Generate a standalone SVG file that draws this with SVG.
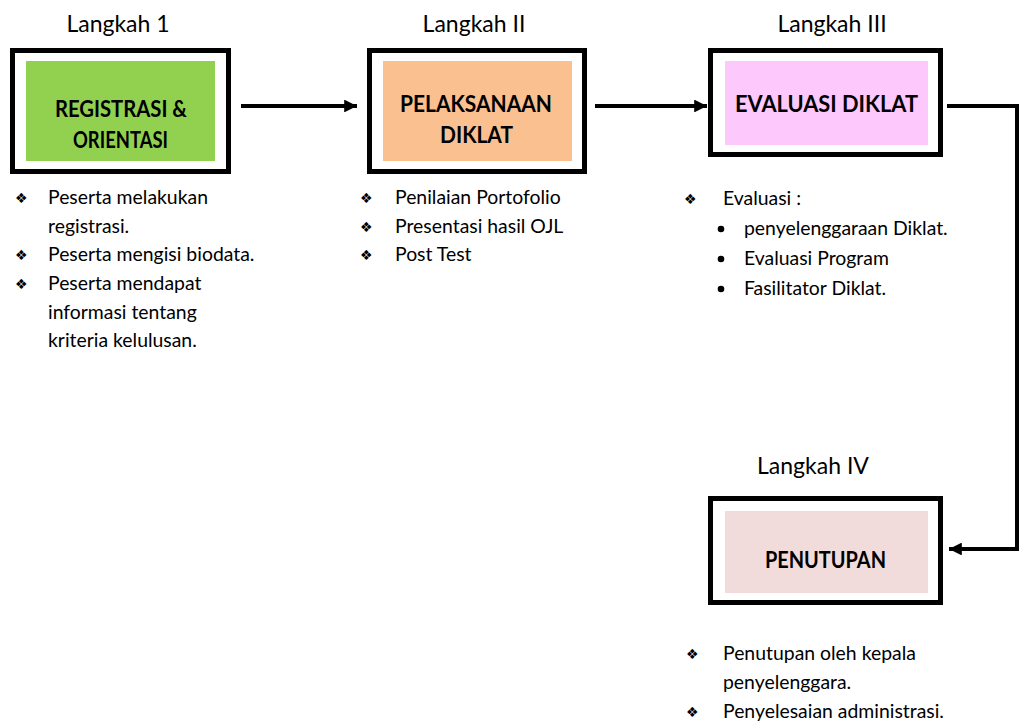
<svg xmlns="http://www.w3.org/2000/svg" width="1019" height="722" viewBox="0 0 1019 722">
<defs>
<marker id="ah" viewBox="0 0 10 10" refX="10" refY="5" markerWidth="3.2" markerHeight="3.2" markerUnits="strokeWidth" orient="auto">
<path d="M0,0 L10,5 L0,10 z" fill="#000"/>
</marker>
<style>
.outer{fill:#fff;stroke:#000;stroke-width:5}
.title{font-family:Lato,"Open Sans",sans-serif;font-size:23px;fill:#000;text-anchor:middle}
.lbl{font-family:Lato,"Open Sans",sans-serif;font-size:23px;font-weight:bold;fill:#000;text-anchor:middle}
.txt{font-family:Lato,"Open Sans",sans-serif;font-size:19.4px;fill:#000}
.bul{font-family:"DejaVu Sans",sans-serif;font-size:14px;fill:#000}
.conn{fill:none;stroke:#000;stroke-width:4}
</style>
</defs>
<rect width="1019" height="722" fill="#fff"/>

<g id="connectors">
<line class="conn" x1="241" y1="106" x2="357" y2="106" marker-end="url(#ah)"/>
<line class="conn" x1="595" y1="106" x2="707" y2="106" marker-end="url(#ah)"/>
<polyline class="conn" points="947,106 1017,106 1017,549 949,549" marker-end="url(#ah)"/>
</g>

<g id="step1">
<text class="title" x="118" y="32">Langkah 1</text>
<rect class="outer" x="12.5" y="50.5" width="216" height="121"/>
<rect x="26" y="61" width="189" height="100" fill="#92d050"/>
<text class="lbl" x="121" y="117" textLength="132" lengthAdjust="spacingAndGlyphs">REGISTRASI &amp;</text>
<text class="lbl" x="120.5" y="148" textLength="95" lengthAdjust="spacingAndGlyphs">ORIENTASI</text>
<text class="bul" x="15" y="203">❖</text>
<text class="txt" x="48" y="204">Peserta melakukan</text>
<text class="txt" x="48" y="233">registrasi.</text>
<text class="bul" x="15" y="260">❖</text>
<text class="txt" x="48" y="261">Peserta mengisi biodata.</text>
<text class="bul" x="15" y="289">❖</text>
<text class="txt" x="48" y="290">Peserta mendapat</text>
<text class="txt" x="48" y="319">informasi tentang</text>
<text class="txt" x="48" y="347">kriteria kelulusan.</text>
</g>

<g id="step2">
<text class="title" x="474" y="32">Langkah II</text>
<rect class="outer" x="369.5" y="50.5" width="215" height="121"/>
<rect x="383" y="61" width="189" height="100" fill="#fac090"/>
<text class="lbl" x="476" y="112" textLength="152" lengthAdjust="spacingAndGlyphs">PELAKSANAAN</text>
<text class="lbl" x="476.5" y="143" textLength="73" lengthAdjust="spacingAndGlyphs">DIKLAT</text>
<text class="bul" x="360" y="203">❖</text>
<text class="txt" x="395" y="204">Penilaian Portofolio</text>
<text class="bul" x="360" y="232">❖</text>
<text class="txt" x="395" y="233">Presentasi hasil OJL</text>
<text class="bul" x="360" y="260">❖</text>
<text class="txt" x="395" y="261">Post Test</text>
</g>

<g id="step3">
<text class="title" x="832" y="32">Langkah III</text>
<rect class="outer" x="710.5" y="50.5" width="230" height="104"/>
<rect x="725" y="61" width="203" height="84" fill="#fdc9fd"/>
<text class="lbl" x="826.5" y="112" textLength="183" lengthAdjust="spacingAndGlyphs">EVALUASI DIKLAT</text>
<text class="bul" x="684" y="204">❖</text>
<text class="txt" x="723" y="205">Evaluasi :</text>
<circle cx="721" cy="229" r="3.3" fill="#000"/>
<text class="txt" x="744" y="235">penyelenggaraan Diklat.</text>
<circle cx="721" cy="259" r="3.3" fill="#000"/>
<text class="txt" x="744" y="265">Evaluasi Program</text>
<circle cx="721" cy="289" r="3.3" fill="#000"/>
<text class="txt" x="744" y="295">Fasilitator Diklat.</text>
</g>

<g id="step4">
<text class="title" x="813" y="474">Langkah IV</text>
<rect class="outer" x="710.5" y="498.5" width="230" height="104"/>
<rect x="725" y="511" width="203" height="82" fill="#f2dcdb"/>
<text class="lbl" x="825.5" y="568" textLength="121" lengthAdjust="spacingAndGlyphs">PENUTUPAN</text>
<text class="bul" x="686" y="659">❖</text>
<text class="txt" x="723" y="660">Penutupan oleh kepala</text>
<text class="txt" x="723" y="689">penyelenggara.</text>
<text class="bul" x="686" y="717">❖</text>
<text class="txt" x="723" y="718">Penyelesaian administrasi.</text>
</g>
</svg>
